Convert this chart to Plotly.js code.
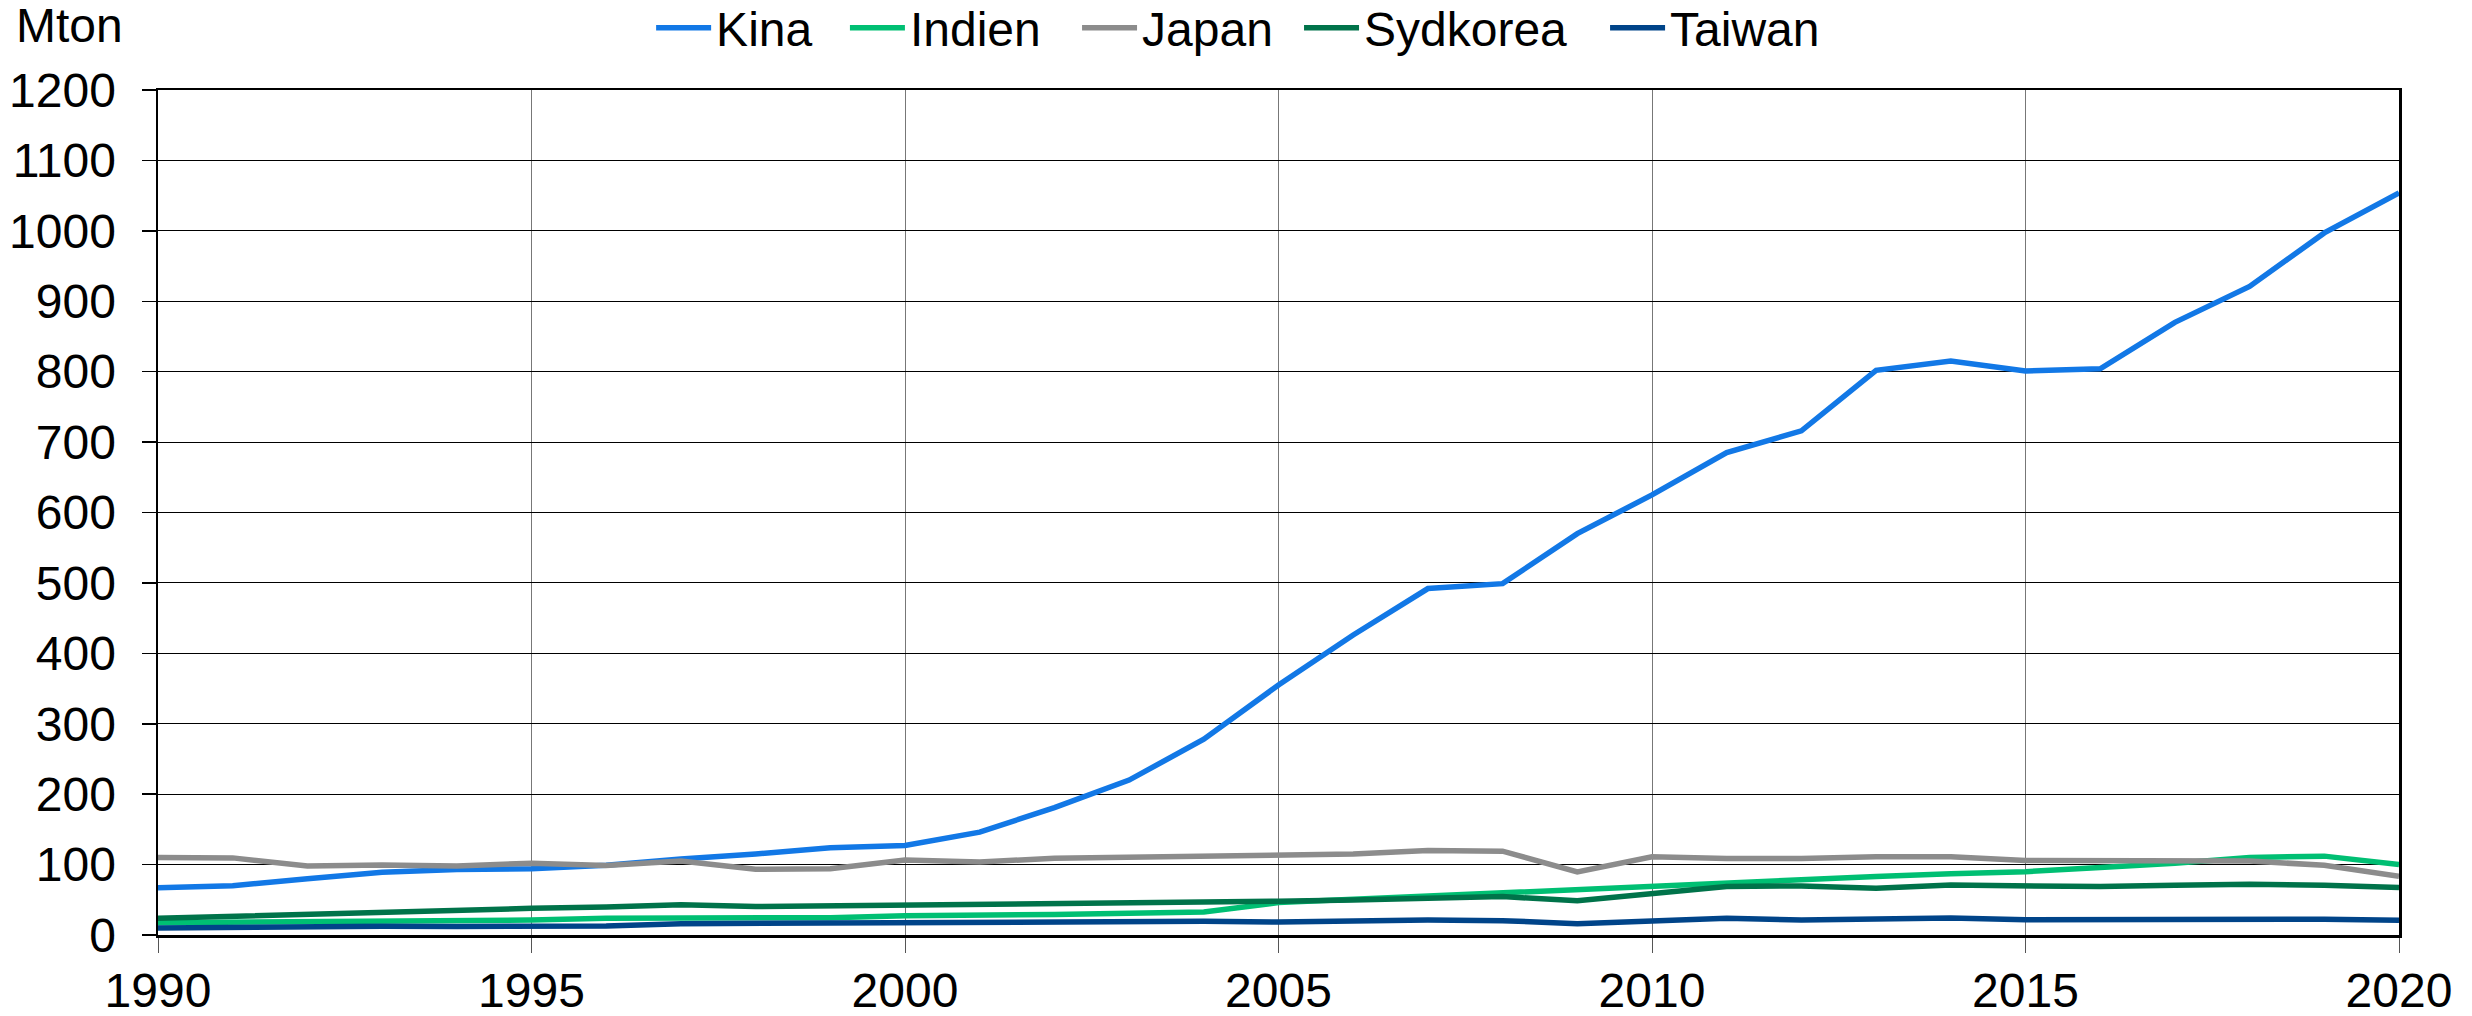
<!DOCTYPE html>
<html>
<head>
<meta charset="utf-8">
<script src="https://cdn.plot.ly/plotly-3.0.1.min.js"></script>
<style>html,body{margin:0;padding:0;background:#fff;}#chart{width:2472px;height:1016px;}</style>
</head>
<body>
<div id="chart"></div>
<script>
const years = [1990,1991,1992,1993,1994,1995,1996,1997,1998,1999,2000,2001,2002,2003,2004,2005,2006,2007,2008,2009,2010,2011,2012,2013,2014,2015,2016,2017,2018,2019,2020];
const kina = [67,70,80,89,93,94,99,108,115,124,127,146,181,220,278,355,426,492,499,570,625,685,716,802,815,801,804,870,921,997,1054];
const indien = [17.5,18,19,19.5,20,21.3,23.7,24.6,24.2,24.6,27.5,28,29,31,32.7,46,50.7,56.4,61,66,69.7,74,79,83,87,90,96,102,110,112,100];
const japan = [110,109.5,98,99.5,98,102,98.6,105,93.4,94,106.6,103.8,109,110.4,111.8,111.8,115,120,119,89.6,111,108.5,108.5,111,111,105.7,105.7,105.7,105,99,83.4];
const sydkorea = [23.7,26.5,29.4,33.6,34.6,37.9,39.8,43,40.3,41.2,43,43.6,45,46,47,47.9,49.8,52,54.5,48.8,59,69,69.7,66.4,71,69.7,68.7,70.6,72,70.6,67.3];
const taiwan = [10,11.4,11.4,12.3,12,12.8,12.8,16,16.6,15.6,17,17.5,18,18.5,19.4,18.5,19.9,21.3,20.4,16,20,23.7,21.3,23.2,24,21.8,21.8,22.3,23.2,22.3,20.9];
const seriesNames = ["Kina","Indien","Japan","Sydkorea","Taiwan"];
const seriesColors = ["#1278E6","#00BF73","#8C8C8C","#00734A","#004489"];
const seriesData = [kina, indien, japan, sydkorea, taiwan];

const legendKeys = ["legend","legend2","legend3","legend4","legend5"];
const legendX = [0.2634, 0.3418, 0.4357, 0.5255, 0.6493];

const traces = seriesData.map((d,i)=>({
  x: years, y: d, name: seriesNames[i], type: "scatter", mode: "lines",
  legend: legendKeys[i],
  line: {color: seriesColors[i], width: 5.5}
}));

const font = "Liberation Sans, Arial, sans-serif";
const FS = 48;
const layout = {
  width: 2472, height: 1016,
  margin: {l:158, r:73, t:90, b:81, autoexpand: false},
  paper_bgcolor: "#fff", plot_bgcolor: "#fff",
  font: {family: font, size: FS, color: "#000"},
  showlegend: true,
  xaxis: {range: [1990, 2020], dtick: 5, tick0: 1990, showgrid: true, gridcolor: "#777", gridwidth: 1,
          showline: true, linecolor: "#000", linewidth: 2.5, mirror: true,
          ticks: "outside", ticklen: 15, tickcolor: "#555", tickwidth: 1, ticklabelstandoff: -3,
          zeroline: false, tickfont: {family: font, size: FS, color: "#000"}, fixedrange: true},
  yaxis: {range: [0, 1200], dtick: 100, tick0: 0, showgrid: true, gridcolor: "#000", gridwidth: 1,
          showline: true, linecolor: "#000", linewidth: 2.5, mirror: true,
          ticks: "outside", ticklen: 14, tickcolor: "#000", tickwidth: 1.5, ticklabelstandoff: 16,
          zeroline: false, tickfont: {family: font, size: FS, color: "#000"}, fixedrange: true},
  annotations: [{text: "Mton", xref: "paper", yref: "paper", x: -0.0643, y: 1.076, xanchor: "left", yanchor: "middle",
                 showarrow: false, font: {family: font, size: FS, color: "#000"}}]
};
legendKeys.forEach((k,i)=>{
  layout[k] = {orientation: "h", xref: "container", yref: "container", x: legendX[i], xanchor: "left",
               y: 0.9724, yanchor: "middle", font: {family: font, size: FS, color: "#000"},
               itemwidth: 55, bgcolor: "rgba(0,0,0,0)"};
});
Plotly.newPlot("chart", traces, layout, {staticPlot: true, displayModeBar: false});
</script>
</body>
</html>
